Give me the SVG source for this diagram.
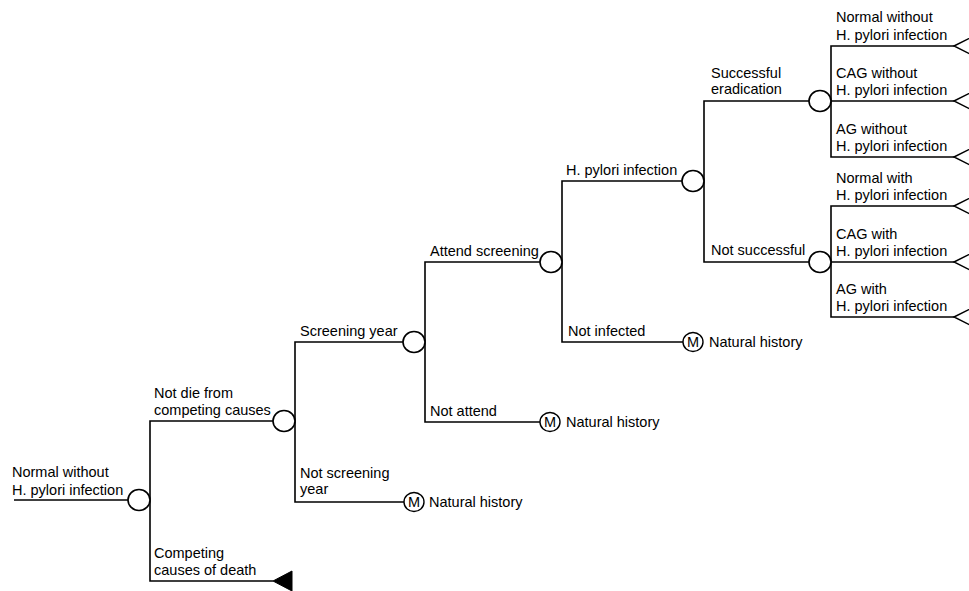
<svg xmlns="http://www.w3.org/2000/svg" width="969" height="591" viewBox="0 0 969 591">
<style>
.c{fill:#fff;stroke:#000;stroke-width:1.6}
.m{fill:#fff;stroke:#000;stroke-width:1.4}
.e{fill:none;stroke:#000;stroke-width:1.6}
.t{fill:#fff;stroke:#000;stroke-width:1.4}
text{font-family:"Liberation Sans",Arial,sans-serif;font-size:14.5px;fill:#000}
.mt{font-size:14.5px;text-anchor:middle}
</style>
<rect width="969" height="591" fill="#fff"/>
<g id="connectors" class="e">
<path d="M14,500H128"/>
<path d="M273,421H150V581H273"/>
<path d="M403,342H295V502H404"/>
<path d="M540,262H425V422H540"/>
<path d="M682,181H562V342H683"/>
<path d="M809,101H704V262H809"/>
<path d="M954,46H831V157H954M831,101H954"/>
<path d="M954,206H831V317H954M831,262H954"/>
</g>
<g id="labels">
<text x="12" y="477">Normal without</text>
<text x="12" y="495">H. pylori infection</text>
<text x="154" y="398">Not die from</text>
<text x="154" y="415">competing causes</text>
<text x="154" y="558">Competing</text>
<text x="154" y="575">causes of death</text>
<text x="300" y="336">Screening year</text>
<text x="300" y="478">Not screening</text>
<text x="300" y="494">year</text>
<text x="430" y="256">Attend screening</text>
<text x="430" y="416">Not attend</text>
<text x="566" y="175">H. pylori infection</text>
<text x="568" y="336">Not infected</text>
<text x="711" y="78">Successful</text>
<text x="711" y="94">eradication</text>
<text x="711" y="255">Not successful</text>
<text x="836" y="22">Normal without</text>
<text x="836" y="39.5">H. pylori infection</text>
<text x="836" y="78">CAG without</text>
<text x="836" y="95">H. pylori infection</text>
<text x="836" y="133.5">AG without</text>
<text x="836" y="150.5">H. pylori infection</text>
<text x="836" y="182.5">Normal with</text>
<text x="836" y="199.5">H. pylori infection</text>
<text x="836" y="238.5">CAG with</text>
<text x="836" y="255.5">H. pylori infection</text>
<text x="836" y="293.5">AG with</text>
<text x="836" y="310.5">H. pylori infection</text>
</g>
<g id="n-root"><ellipse class="c" cx="139" cy="500" rx="11" ry="10.5"/></g>
<g id="n-notdie"><ellipse class="c" cx="284" cy="421" rx="11" ry="10.5"/></g>
<g id="n-death"><polygon points="273,581 292,571 292,591" fill="#000" stroke="#000" stroke-width="1"/></g>
<g id="n-screenyear"><ellipse class="c" cx="414" cy="342" rx="11" ry="10.5"/></g>
<g id="n-notscreen"><ellipse class="m" cx="414" cy="502" rx="10" ry="9.5"/><text class="mt" x="414" y="507">M</text><text x="429" y="507">Natural history</text></g>
<g id="n-attend"><ellipse class="c" cx="551" cy="262" rx="11" ry="10.5"/></g>
<g id="n-notattend"><ellipse class="m" cx="550" cy="422" rx="10" ry="9.5"/><text class="mt" x="550" y="427">M</text><text x="566" y="427">Natural history</text></g>
<g id="n-hp"><ellipse class="c" cx="693" cy="181" rx="11" ry="10.5"/></g>
<g id="n-notinf"><ellipse class="m" cx="693" cy="342" rx="10" ry="9.5"/><text class="mt" x="693" y="347">M</text><text x="709" y="347">Natural history</text></g>
<g id="n-success"><ellipse class="c" cx="820" cy="101" rx="11" ry="10.5"/></g>
<g id="n-notsuccess"><ellipse class="c" cx="820" cy="262" rx="11" ry="10.5"/></g>
<g id="t1"><polygon class="t" points="954,46 975,35.5 975,56.5"/></g>
<g id="t2"><polygon class="t" points="954,101 975,90.5 975,111.5"/></g>
<g id="t3"><polygon class="t" points="954,157 975,146.5 975,167.5"/></g>
<g id="t4"><polygon class="t" points="954,206 975,195.5 975,216.5"/></g>
<g id="t5"><polygon class="t" points="954,262 975,251.5 975,272.5"/></g>
<g id="t6"><polygon class="t" points="954,317 975,306.5 975,327.5"/></g>
</svg>
